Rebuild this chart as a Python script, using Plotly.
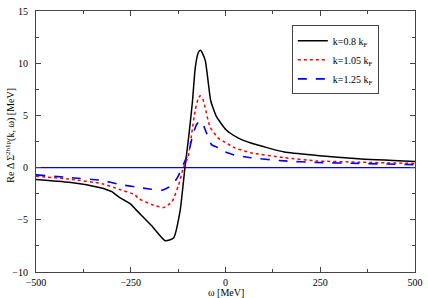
import plotly.graph_objects as go

omega_k08 = [-500, -413, -333, -300, -282, -250, -237, -194, -159, -137, -120, -107, -96, -87, -80, -72, -66, -60, -53, -46, -39, -24, 2, 33, 67, 155, 241, 350, 500]
re_k08 = [-1.13, -1.4, -1.9, -2.3, -2.8, -3.5, -4.0, -5.6, -7.0, -6.75, -4.2, 0.0, 3.3, 6.4, 9.5, 11.0, 11.25, 10.9, 10.2, 8.3, 6.4, 4.9, 3.6, 2.85, 2.36, 1.49, 1.17, 0.85, 0.58]

omega_k105 = [-500, -413, -326, -281, -239, -228, -190, -163, -141, -124, -111, -98, -89, -80, -72, -67, -60, -54, -41, -20, 0, 24, 67, 155, 241, 350, 500]
re_k105 = [-0.82, -1.1, -1.54, -2.07, -2.6, -3.0, -3.6, -3.82, -3.26, -1.7, 0.0, 1.14, 3.3, 5.5, 6.6, 6.88, 6.6, 5.8, 3.9, 2.85, 2.4, 1.9, 1.42, 0.95, 0.64, 0.52, 0.4]

omega_k125 = [-500, -413, -326, -281, -239, -200, -168, -141, -124, -115, -98, -85, -75, -67, -60, -50, -37, -20, -11, 24, 67, 155, 241, 350, 500]
re_k125 = [-0.7, -0.95, -1.23, -1.6, -1.85, -2.05, -2.17, -1.7, -0.76, 0.0, 1.4, 3.3, 4.2, 4.48, 4.2, 3.3, 2.2, 1.9, 1.65, 1.2, 0.95, 0.64, 0.49, 0.4, 0.28]

zero_x = [-500, 500]
zero_y = [0, 0]

x_ticks = [-500, -250, 0, 250, 500]
y_ticks = [-10, -5, 0, 5, 10, 15]

font_family = "Liberation Serif, Times New Roman, serif"

fig = go.Figure()
fig.add_trace(go.Scatter(x=zero_x, y=zero_y, mode="lines", line=dict(color="#0000ff", width=1.2), showlegend=False))
fig.add_trace(go.Scatter(x=omega_k08, y=re_k08, mode="lines", name="k=0.8 k<sub>F</sub>",
                         line=dict(color="black", width=1.5, shape="spline", smoothing=0.5)))
fig.add_trace(go.Scatter(x=omega_k105, y=re_k105, mode="lines", name="k=1.05 k<sub>F</sub>",
                         line=dict(color="#ff0000", width=1.5, dash="dot", shape="spline", smoothing=0.5)))
fig.add_trace(go.Scatter(x=omega_k125, y=re_k125, mode="lines", name="k=1.25 k<sub>F</sub>",
                         line=dict(color="#0000ff", width=1.6, dash="dash", shape="spline", smoothing=0.5)))

axis_common = dict(showline=True, linecolor="#444444", linewidth=1, mirror="allticks",
                   ticks="inside", ticklen=5, tickcolor="#444444", showgrid=False, zeroline=False,
                   tickfont=dict(family=font_family, size=10, color="black"))

fig.update_xaxes(range=[-500, 500], tickvals=x_ticks, ticklabelstandoff=1, **axis_common,
                 minor=dict(ticks="inside", ticklen=3, dtick=125, tickcolor="#444444", showgrid=False))
fig.update_yaxes(range=[-10, 15], tickvals=y_ticks, ticklabelstandoff=5, **axis_common,
                 minor=dict(ticks="inside", ticklen=3, dtick=2.5, tickcolor="#444444", showgrid=False))

fig.add_annotation(text="ω [MeV]", xref="paper", yref="paper", x=0.5, y=-0.078,
                   xanchor="center", yanchor="middle", showarrow=False,
                   font=dict(family=font_family, size=10, color="black"))
fig.add_annotation(text="Re Δ Σ<sup>2h1p</sup>(k, ω) [MeV]", xref="paper", yref="paper",
                   x=-0.068, y=0.523, xanchor="center", yanchor="middle", textangle=-90, showarrow=False,
                   font=dict(family=font_family, size=10, color="black"))

fig.update_layout(
    width=428, height=298,
    margin=dict(l=36, r=9, t=5, b=26),
    plot_bgcolor="white", paper_bgcolor="white",
    font=dict(family=font_family, size=10, color="black"),
    legend=dict(x=0.675, y=0.945, xanchor="left", yanchor="top", bgcolor="white",
                bordercolor="#444444", borderwidth=1, font=dict(family=font_family, size=10),
                tracegroupgap=0, itemwidth=30),
)

fig.write_html("out.html", config={"displayModeBar": False},
               post_script="document.body.style.margin='0';document.body.style.overflow='hidden';")
